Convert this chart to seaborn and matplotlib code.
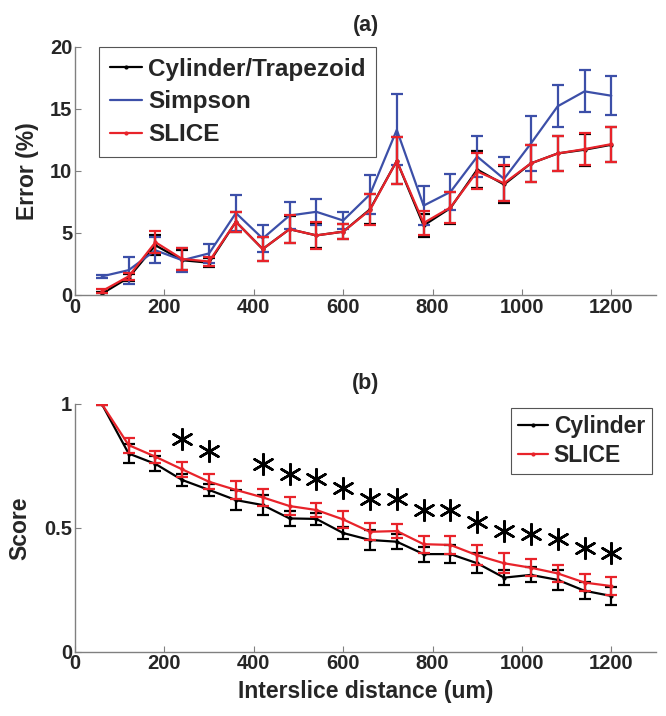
import numpy as np
import pandas as pd
import matplotlib
matplotlib.use('Agg')
import matplotlib.pyplot as plt
import seaborn as sns

# interslice distances (um)
dist = [60, 120, 180, 240, 300, 360, 420, 480, 540, 600,
        660, 720, 780, 840, 900, 960, 1020, 1080, 1140, 1200]

# (a) volume error (%)
err_cyl = [0.1, 1.4, 4.0, 2.8, 2.6, 5.9, 3.7, 5.3, 4.8, 5.1,
           6.9, 10.8, 5.6, 7.0, 10.1, 8.9, 10.6, 11.4, 11.7, 12.1]
err_cyl_sd = [0.15, 0.3, 0.8, 0.8, 0.35, 0.8, 1.0, 1.1, 1.0, 0.6,
              1.2, 1.9, 0.95, 1.3, 1.5, 1.5, 1.5, 1.4, 1.3, 1.4]
err_simp = [1.5, 2.0, 3.6, 2.8, 3.35, 6.6, 4.55, 6.4, 6.7, 6.0,
            8.1, 13.3, 7.2, 8.3, 11.15, 9.35, 12.2, 15.2, 16.4, 16.05]
err_simp_sd = [0.15, 1.1, 1.05, 0.95, 0.75, 1.45, 1.05, 1.1, 1.05, 0.7,
               1.6, 2.85, 1.55, 1.45, 1.65, 1.8, 2.2, 1.7, 1.7, 1.57]
err_slice = [0.3, 1.5, 4.25, 2.9, 2.7, 5.9, 3.7, 5.3, 4.8, 5.1,
             6.85, 10.8, 5.8, 7.05, 9.95, 9.0, 10.6, 11.4, 11.75, 12.15]
err_slice_sd = [0.15, 0.3, 0.9, 0.85, 0.35, 0.8, 1.0, 1.15, 1.1, 0.6,
                1.25, 1.9, 0.95, 1.25, 1.45, 1.45, 1.5, 1.4, 1.3, 1.4]

# (b) score
sc_cyl = [1.0, 0.80, 0.758, 0.693, 0.653, 0.612, 0.592, 0.538, 0.536, 0.479,
          0.451, 0.444, 0.394, 0.394, 0.357, 0.299, 0.31, 0.29, 0.246, 0.225]
sc_cyl_sd = [0.005, 0.04, 0.03, 0.025, 0.025, 0.04, 0.04, 0.03, 0.025, 0.025,
             0.04, 0.03, 0.03, 0.035, 0.04, 0.03, 0.03, 0.04, 0.035, 0.035]
sc_slice = [1.0, 0.834, 0.787, 0.736, 0.686, 0.653, 0.623, 0.588, 0.572, 0.534,
            0.484, 0.487, 0.434, 0.431, 0.389, 0.357, 0.339, 0.316, 0.279, 0.265]
sc_slice_sd = [0.005, 0.03, 0.025, 0.03, 0.03, 0.035, 0.035, 0.035, 0.03, 0.035,
               0.035, 0.03, 0.035, 0.035, 0.04, 0.04, 0.035, 0.035, 0.035, 0.035]

# significance markers
sig_dist = [240, 300, 420, 480, 540, 600, 660, 720, 780, 840,
            900, 960, 1020, 1080, 1140, 1200]
sig_y = [0.857, 0.811, 0.756, 0.716, 0.696, 0.66, 0.616, 0.616, 0.572, 0.572,
         0.525, 0.489, 0.475, 0.454, 0.417, 0.397]

BLACK = '#000000'
BLUE = '#3c4fa8'
RED = '#e8232a'
AXC = '#808080'

sns.set_theme(style='white')
plt.rcParams['font.family'] = ['Liberation Sans', 'DejaVu Sans']
plt.rcParams['font.weight'] = 'bold'
plt.rcParams['axes.labelweight'] = 'bold'
plt.rcParams['axes.titleweight'] = 'bold'

fig = plt.figure(figsize=(6.66, 7.16), dpi=100)
ax1 = fig.add_axes([0.1126, 0.588, 0.8724, 0.3468])
ax2 = fig.add_axes([0.1126, 0.0898, 0.8724, 0.346])


def draw(ax, y, sd, color, label, marker):
    df = pd.DataFrame({'x': dist, 'y': y})
    sns.lineplot(data=df, x='x', y='y', color=color, linewidth=1.6,
                 marker=marker, markersize=3, markeredgewidth=0,
                 ax=ax, label=label)
    ax.errorbar(dist, y, yerr=sd, fmt='none', ecolor=color,
                elinewidth=1.6, capsize=4.5, capthick=1.6)


draw(ax1, err_cyl, err_cyl_sd, BLACK, 'Cylinder/Trapezoid', 'o')
draw(ax1, err_simp, err_simp_sd, BLUE, 'Simpson', None)
draw(ax1, err_slice, err_slice_sd, RED, 'SLICE', 'o')

draw(ax2, sc_cyl, sc_cyl_sd, BLACK, 'Cylinder', 'o')
draw(ax2, sc_slice, sc_slice_sd, RED, 'SLICE', 'o')
sns.scatterplot(x=sig_dist, y=sig_y, marker=(6, 2, 0), s=220,
                color=BLACK, linewidth=1.8, edgecolor=BLACK, ax=ax2)

for ax in (ax1, ax2):
    ax.set_xlim(0, 1300)
    ax.set_xticks(range(0, 1201, 200))
    for side in ('top', 'right'):
        ax.spines[side].set_visible(False)
    for side in ('left', 'bottom'):
        ax.spines[side].set_color(AXC)
        ax.spines[side].set_linewidth(1.0)
    ax.tick_params(direction='in', length=4, width=0.8, color=AXC,
                   labelsize=14.5, pad=2, left=True, bottom=True)
    for lab in ax.get_xticklabels() + ax.get_yticklabels():
        lab.set_fontweight('bold')

ax1.set_ylim(0, 20)
ax1.set_yticks([0, 5, 10, 15, 20])
ax1.set_xlabel('')
ax1.set_ylabel('Error (%)', fontsize=16.5, labelpad=8)
ax1.set_title('(a)', fontsize=15.5, pad=11)

ax2.set_ylim(0, 1)
ax2.set_yticks([0, 0.5, 1])
ax2.set_yticklabels(['0', '0.5', '1'])
ax2.set_xlabel('Interslice distance (um)', fontsize=16.5, labelpad=5)
ax2.set_ylabel('Score', fontsize=16.5, labelpad=9)
ax2.set_title('(b)', fontsize=15.5, pad=11)

leg_kw = dict(frameon=True, fancybox=False, framealpha=1, edgecolor='#555555',
              handlelength=1.3, handletextpad=0.25, borderaxespad=0,
              borderpad=0.45, labelspacing=0.4, prop={'weight': 'bold', 'size': 17.5})
leg1 = ax1.legend(loc='upper left', bbox_to_anchor=(0.042, 1.0), **leg_kw)
leg_kw['prop'] = {'weight': 'bold', 'size': 16.5}
leg_kw['borderpad'] = 0.3
leg_kw['labelspacing'] = 0.25
leg2 = ax2.legend(loc='upper right', bbox_to_anchor=(0.993, 0.983), **leg_kw)
for leg in (leg1, leg2):
    leg.get_frame().set_linewidth(0.8)

fig.savefig('out.png', dpi=100)
